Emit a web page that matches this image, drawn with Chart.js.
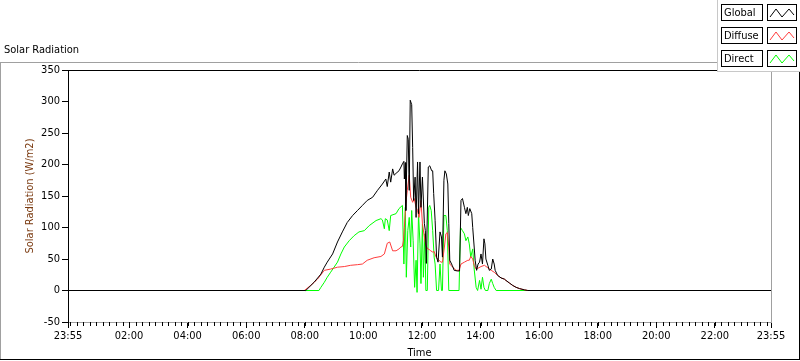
<!DOCTYPE html>
<html>
<head>
<meta charset="utf-8">
<script src="https://cdn.jsdelivr.net/npm/chart.js@4.4.1/dist/chart.umd.min.js"></script>
<style>
  html, body { margin: 0; padding: 0; background: #fff; }
  #wrap { width: 800px; height: 361px; }
</style>
</head>
<body>
<div id="wrap"><canvas id="myChart" width="800" height="361"></canvas></div>
<script>
	// time in minutes after 00:00 (23:55 of the day before = -5)
	var globalTime = [-5,482,499,513,520,526,537,547,557,567,578,588,598,608,619,629,639,646,649,653,656,660,663,667,673,677,680,683,684,686,687,690,692,694,696,699,701,703,706,708,711,713,716,718,721,725,727,729,733,736,740,742,744,747,750,753,757,760,762,765,767,770,773,775,777,782,786,793,797,800,803,807,810,813,815,818,822,824,827,829,832,835,838,841,844,847,849,851,855,858,862,865,868,870,875,882,889,892,899,906,913,920,930,937,1435];
	var globalVals = [0,0,13,26,37,45,58,77,93,108,119,127,135,143,148,159,169,177,165,188,172,193,183,186,190,196,201,205,177,203,127,246,240,159,302,295,227,143,180,116,204,122,204,132,180,106,95,43,196,198,190,190,154,111,53,45,93,85,53,175,190,185,169,106,48,40,32,31,31,143,146,132,122,132,119,130,122,100,69,48,32,42,45,58,42,82,74,50,40,32,34,50,42,32,24,20,18,16,12,8,5,3,1,0,0];

	var diffuseTime = [-5,479,492,506,520,533,547,561,574,588,598,608,622,636,643,649,654,660,667,673,677,680,682,684,687,690,694,697,701,704,708,711,714,718,721,725,728,732,735,738,742,745,749,752,755,759,762,766,769,772,775,777,783,790,796,800,807,814,817,820,824,827,831,834,841,848,855,862,868,875,882,889,892,899,906,913,920,930,937,1435];
	var diffuseVals = [0,0,8,18,32,34,37,38,40,41,42,48,52,54,58,75,77,63,63,66,69,70,79,100,138,159,183,148,140,146,132,127,116,143,106,85,71,66,65,63,61,62,53,50,48,45,45,69,90,92,69,42,37,32,32,42,45,48,48,54,50,40,34,35,38,40,36,32,29,24,20,18,16,12,8,5,3,1,0,0];

	var directTime = [-5,509,513,520,526,533,540,547,554,561,571,581,591,602,612,626,636,639,643,645,649,653,656,667,673,680,683,686,688,691,694,697,699,702,705,708,710,713,716,718,721,723,726,728,731,734,736,739,742,745,747,750,754,757,760,762,765,769,772,775,796,799,803,807,810,814,817,820,824,827,831,834,838,841,844,847,850,855,858,862,865,868,872,1435];
	var directVals = [0,0,5,13,21,29,37,45,58,69,79,87,93,95,103,111,114,112,98,114,112,95,119,122,130,135,42,132,21,95,116,69,127,79,5,48,-3,122,74,11,106,21,90,0,0,132,135,127,95,53,42,0,0,42,0,0,119,119,95,0,0,100,95,90,79,85,74,53,66,34,5,0,16,2,21,5,0,0,11,18,11,5,0,0];

	var xMajorTicks = [-5,120,240,360,480,600,720,840,960,1080,1200,1320,1435];
	var yTicks = [-50,0,50,100,150,200,250,300,350];
	var seriesNames = ['Global','Diffuse','Direct'];
	var seriesColors = ['#000000','#ff3c3c','#00ff00'];

	var FONT = "'DejaVu Sans Condensed', 'Liberation Sans', sans-serif";

	function toPoints(t, v) {
		var out = [];
		for (let i = 0; i < t.length; i++) out.push({x: t[i], y: v[i]});
		return out;
	}

	function hhmm(m) {
		m = ((m % 1440) + 1440) % 1440;
		var h = Math.floor(m / 60), mm = Math.round(m % 60);
		return (h < 10 ? '0' : '') + h + ':' + (mm < 10 ? '0' : '') + mm;
	}

	function hline(c, x1, x2, y) { c.beginPath(); c.moveTo(x1, y); c.lineTo(x2, y); c.stroke(); }
	function vline(c, x, y1, y2) { c.beginPath(); c.moveTo(x, y1); c.lineTo(x, y2); c.stroke(); }

	var framePlugin = {
		id: 'frame',
		beforeDraw(chart) {
			var c = chart.ctx;
			c.save();
			c.fillStyle = '#fff';
			c.fillRect(0, 0, chart.width, chart.height);
			c.restore();
		},
		afterDraw(chart) {
			var c = chart.ctx, a = chart.chartArea, xs = chart.scales.x;
			c.save();
			c.lineWidth = 1;
			// plot box: top black, right gray
			c.strokeStyle = '#000';
			hline(c, a.left, a.right, Math.round(a.top) + 0.5);
			c.strokeStyle = '#a0a0a0';
			vline(c, Math.round(a.right) + 0.5, a.top, a.bottom);
			// minor ticks on time axis
			c.strokeStyle = '#000';
			for (let t = 0; t <= 1435; t += 120 / 9) {
				var px = Math.round(xs.getPixelForValue(t)) + 0.5;
				vline(c, px, a.bottom, a.bottom + 4);
			}
			// outer frame
			c.strokeStyle = '#a0a0a0';
			hline(c, 0, 717, 62.5);
			vline(c, 0.5, 62, 360);
			c.strokeStyle = '#000';
			hline(c, 0, 800, 359.5);
			vline(c, 799.5, 72, 360);
			// title
			c.fillStyle = '#000';
			c.font = '11px ' + FONT;
			c.textBaseline = 'middle';
			c.textAlign = 'left';
			c.fillText('Solar Radiation', 4, 50);
			// legend panel
			c.fillStyle = '#fff';
			c.fillRect(717, 0, 83, 72);
			c.strokeStyle = '#c8c8c8';
			vline(c, 717.5, 0, 72);
			hline(c, 717, 800, 71.5);
			var rows = [4, 27, 50];
			for (let i = 0; i < seriesNames.length; i++) {
				var ry = rows[i];
				c.strokeStyle = '#000';
				c.strokeRect(721.5, ry + 0.5, 41, 16);
				c.strokeRect(767.5, ry + 0.5, 29, 16);
				c.fillStyle = '#000';
				c.fillText(seriesNames[i], 724, ry + 9);
				c.strokeStyle = seriesColors[i];
				c.beginPath();
				c.moveTo(770, ry + 13);
				c.lineTo(776, ry + 5);
				c.lineTo(782, ry + 13);
				c.lineTo(789, ry + 5);
				c.lineTo(794, ry + 11);
				c.stroke();
			}
			c.restore();
		}
	};

	var data = {
		datasets: [
			{ label: 'Global', data: toPoints(globalTime, globalVals), borderColor: seriesColors[0], order: 0 },
			{ label: 'Diffuse', data: toPoints(diffuseTime, diffuseVals), borderColor: seriesColors[1], order: 1 },
			{ label: 'Direct', data: toPoints(directTime, directVals), borderColor: seriesColors[2], order: 2 }
		]
	};

	var config = {
		type: 'line',
		data: data,
		options: {
			responsive: false,
			animation: false,
			devicePixelRatio: 1,
			parsing: false,
			elements: {
				line: { borderWidth: 1, tension: 0, fill: false },
				point: { radius: 0, hoverRadius: 0 }
			},
			layout: { padding: { top: 70, right: 29, left: 0, bottom: 0 } },
			plugins: {
				legend: { display: false },
				tooltip: { enabled: false }
			},
			scales: {
				x: {
					type: 'linear',
					min: -5,
					max: 1435,
					afterBuildTicks: function (scale) {
						scale.ticks = xMajorTicks.map(function (v) { return {value: v}; });
					},
					afterFit: function (scale) { scale.height = 39; },
					ticks: {
						autoSkip: false,
						maxRotation: 0,
						padding: 2,
						color: '#000',
						font: { family: FONT, size: 11 },
						callback: function (v) { return hhmm(v); }
					},
					grid: { drawOnChartArea: false, tickLength: 6, color: '#000' },
					border: { color: '#a0a0a0' },
					title: {
						display: true,
						text: 'Time',
						color: '#000',
						font: { family: FONT, size: 11 },
						padding: { top: 0, bottom: 1 }
					}
				},
				y: {
					min: -50,
					max: 350,
					afterBuildTicks: function (scale) {
						scale.ticks = yTicks.map(function (v) { return {value: v}; });
					},
					afterFit: function (scale) { scale.width = 68; },
					ticks: {
						padding: 2,
						color: '#000',
						font: { family: FONT, size: 11 }
					},
					grid: { drawOnChartArea: false, tickLength: 6, color: '#000' },
					border: { color: '#000' },
					title: {
						display: true,
						text: 'Solar Radiation (W/m2)',
						color: '#7a3a10',
						font: { family: FONT, size: 11 },
						padding: { top: 24, bottom: 0 }
					}
				}
			}
		},
		plugins: [framePlugin]
	};

	var myChart = new Chart(document.getElementById('myChart'), config);
</script>
</body>
</html>
